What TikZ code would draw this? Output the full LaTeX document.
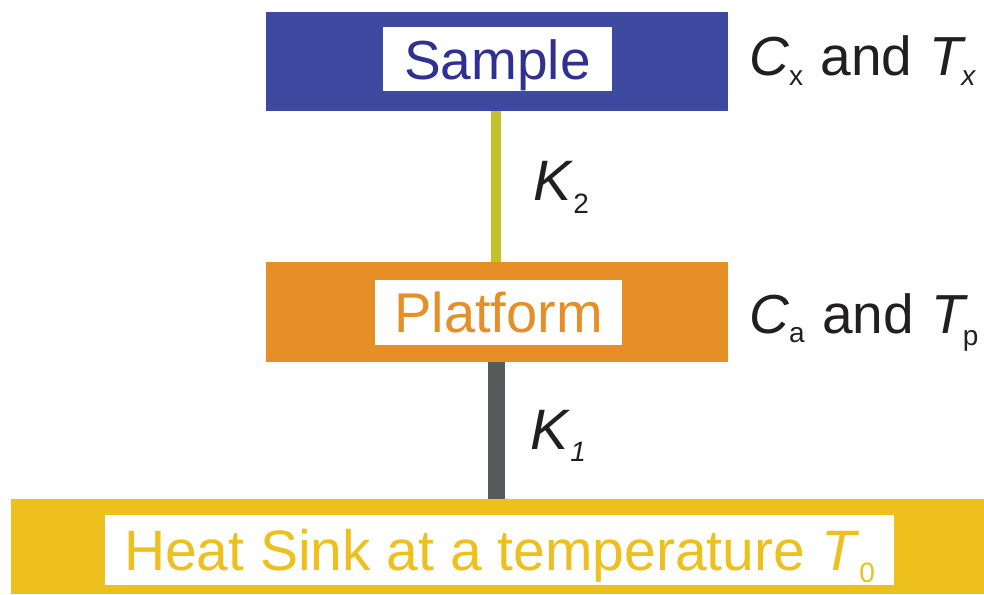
\documentclass[tikz,border=0pt]{standalone}
\usepackage{fontspec}
\setmainfont{Liberation Sans}
\definecolor{sampleblue}{HTML}{3D4AA0}
\definecolor{sampletext}{HTML}{2E3192}
\definecolor{platorange}{HTML}{E68F27}
\definecolor{sinkyellow}{HTML}{EDC01E}
\definecolor{ktwo}{HTML}{C4C12E}
\definecolor{kone}{HTML}{58595B}
\definecolor{inkblack}{HTML}{231F20}
\newcommand{\mysub}[2][11pt]{\raisebox{-#1}{\fontsize{28}{28}\selectfont #2}}
\begin{document}
\begin{tikzpicture}[x=1pt,y=-1pt,
  block/.style={rectangle, draw=none, inner sep=0pt},
  tagbox/.style={rectangle, fill=white, inner sep=0pt, text height=40pt, text depth=0pt},
  sidetext/.style={anchor=base west, inner sep=0pt, text=inkblack, font=\fontsize{57}{60}\selectfont},
  sidelbl/.style={anchor=base west, inner sep=0pt, text=inkblack, font=\fontsize{55}{60}\selectfont}]
\useasboundingbox (0,0) rectangle (984,594);
% blocks
\node[block, fill=sampleblue, minimum width=462pt, minimum height=99pt] (sample) at (497,61.5) {};
\node[block, fill=platorange, minimum width=462pt, minimum height=100pt] (platform) at (497,312) {};
\node[block, fill=sinkyellow, minimum width=973pt, minimum height=95pt] (sink) at (497.5,546.5) {};
% connectors
\draw[ktwo, line width=9.5pt] (sample.south -| 496,0) coordinate (k2top) -- (platform.north -| 496,0) coordinate (k2bot);
\draw[kone, line width=17pt] (platform.south -| 496,0) coordinate (k1top) -- (sink.north -| 496,0) coordinate (k1bot);
% labels inside blocks
\node[tagbox, minimum width=229pt, minimum height=64pt, text=sampletext, font=\fontsize{55}{60}\selectfont] (samplelbl) at (497.5,59) {Sample};
\node[tagbox, minimum width=247pt, minimum height=65pt, text=platorange, font=\fontsize{56}{60}\selectfont] (platlbl) at (498.5,312.5) {Platform};
\node[tagbox, minimum width=789pt, minimum height=70pt, text=sinkyellow, font=\fontsize{57}{60}\selectfont] (sinklbl) at (499.5,550) {Heat Sink at a temperature \textit{T}\mysub[12pt]{0}};
% side texts
\node[sidelbl] (cxtx) at (749,75) {\textit{C}\mysub[10pt]{x}\hspace{2pt} and\hspace{2pt} \textit{T}\hspace{-5pt}\mysub[10pt]{\textit{x}}};
\node[sidelbl] (catp) at (749,333) {\textit{C}\mysub[9pt]{a}\hspace{2pt} and\hspace{2pt} \textit{T}\hspace{-5pt}\mysub[12pt]{p}};
\node[sidetext] (k2) at (533,200) {\textit{K}\mysub[13pt]{2}};
\node[sidetext] (k1) at (530,449) {\textit{K}\mysub[12pt]{\textit{1}}};
\end{tikzpicture}
\end{document}
